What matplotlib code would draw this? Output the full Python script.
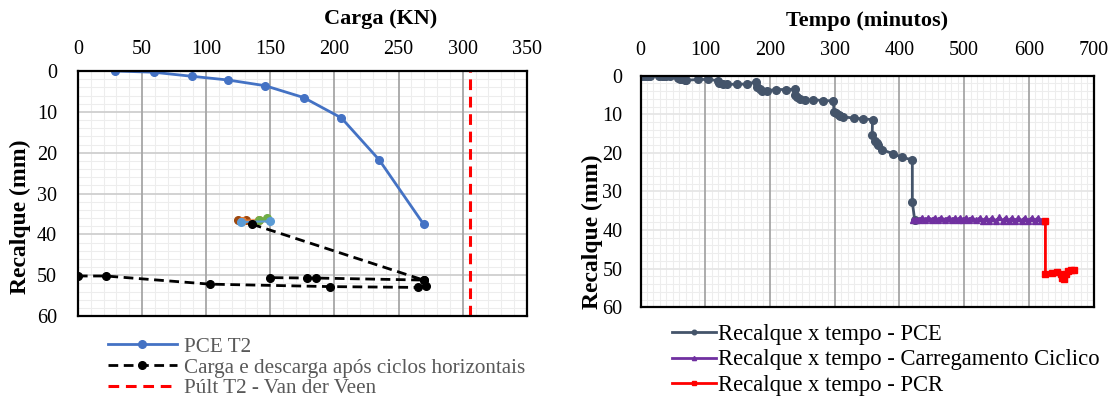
import matplotlib
matplotlib.use('Agg')
import matplotlib.pyplot as plt
from matplotlib.ticker import MultipleLocator
import numpy as np

plt.rcParams['font.family'] = ['Liberation Serif', 'DejaVu Serif']

# ---------------------------------------------------------------------------
# left chart: load x settlement
pce_carga = [29, 59, 89, 117, 146, 176, 205.5, 235, 269.5]
pce_recalque = [0, 0.3, 1.3, 2.2, 3.6, 6.5, 11.5, 21.8, 37.5]

# load / unload after horizontal cycles (nan = gap in the line)
cd_carga = [135.6, 269.5, 185.5, 179, 150, np.nan,
            0, 21.7, 103, 196.6, 265, 271.4, 269.5]
cd_recalque = [37.5, 51.2, 50.7, 50.7, 50.6, np.nan,
               50.2, 50.2, 52.2, 52.8, 53.0, 52.6, 51.2]

p_ult = 306

# small series left over from the cyclic stage
ciclo_series = [
    ([124.5, 131], [36.6, 36.6], '#9E480E'),
    ([128, 141], [36.7, 36.5], '#ED7D31'),
    ([141, 147.5], [36.6, 36.1], '#70AD47'),
    ([127, 149.5], [37.0, 36.8], '#5B9BD5'),
]

# ---------------------------------------------------------------------------
# right chart: settlement x time
pce_t = [0, 3, 6, 9, 12, 15, 29, 33, 37, 40, 45, 58, 61, 64, 68, 71, 89, 105,
         120, 122, 128, 133, 149, 164, 178.5, 179.6, 184, 187, 195, 209.5, 225,
         238, 239, 242, 246.6, 254, 267, 282, 298, 299, 302, 306, 309, 313.6,
         330, 343.6, 358.5, 358, 363, 365, 367, 373, 390, 404.5, 420, 420,
         423.6]
pce_r = [0, 0, 0, 0, 0, 0, 0, 0, 0, 0, 0, 0.6, 0.8, 1.0, 1.1, 1.2, 1.0, 1.0,
         1.3, 1.8, 2.2, 2.3, 2.2, 2.2, 1.6, 3.0, 3.5, 3.9, 3.9, 3.6, 3.6,
         3.5, 5.0, 5.6, 6.0, 6.4, 6.2, 6.5, 6.5, 9.3, 9.8, 10.1, 10.4, 10.7,
         11.0, 11.2, 11.4, 15.3, 17.0, 17.4, 17.9, 19.2, 20.2, 21.2, 21.8, 32.8,
         37.3]

cic_t = [421, 426, 430, 435, 440, 445, 450, 454.5, 459, 464, 470, 476, 481,
         486.5, 490, 494, 498, 503, 507, 512, 518, 525, 530, 534, 538, 543,
         549, 554.5, 560, 564, 569, 574, 579, 584, 589, 593.7, 599, 605, 610,
         614, 619, 623]
cic_r = [37.5, 37.3, 37.3, 36.8, 37.3, 36.8, 37.3, 36.8, 37.3, 36.8, 37.3,
         36.8, 37.3, 36.8, 37.3, 36.8, 37.3, 36.8, 37.3, 36.8, 37.5, 36.8,
         37.6, 36.8, 37.6, 36.8, 37.6, 36.7, 37.6, 36.8, 37.6, 36.8, 37.6,
         36.8, 37.6, 36.8, 37.6, 36.8, 37.6, 36.8, 37.6, 37.6]

pcr_t = [625.7, 625.7, 636, 644, 650, 652, 655, 657, 660, 665, 670]
pcr_r = [37.6, 51.4, 51.2, 50.9, 51.3, 52.5, 52.8, 51.5, 50.6, 50.3, 50.3]


def grade(ax, major_x, minor_x, major_y, minor_y):
    ax.xaxis.set_major_locator(MultipleLocator(major_x))
    ax.xaxis.set_minor_locator(MultipleLocator(minor_x))
    ax.yaxis.set_major_locator(MultipleLocator(major_y))
    ax.yaxis.set_minor_locator(MultipleLocator(minor_y))
    ax.grid(which='minor', color='#EDEDED', linewidth=0.8, zorder=0.2)
    ax.set_axisbelow(True)
    ax.xaxis.tick_top()
    ax.tick_params(which='both', length=0)
    ax.tick_params(axis='both', labelsize=14.5)
    for s in ax.spines.values():
        s.set_color('black')
        s.set_linewidth(1.6)


def linhas_principais(ax, cor_hy):
    # major grid drawn above the minor one so crossings stay solid
    for v in ax.get_xticks()[1:-1]:
        ax.axvline(v, color='#A6A6A6', linewidth=1.3, zorder=0.8)
    for v in ax.get_yticks()[1:-1]:
        ax.axhline(v, color=cor_hy, linewidth=1.3, zorder=0.7)


fig = plt.figure(figsize=(11.14, 3.98), dpi=100)

# ---------------------------------------------------------------------------
ax1 = fig.add_axes([0.0699, 0.206, 0.403, 0.6156])
grade(ax1, 50, 10, 10, 2)
ax1.tick_params(axis='x', pad=9)
ax1.tick_params(axis='y', pad=15)
ax1.set_xlim(0, 350)
ax1.set_ylim(60, 0)
linhas_principais(ax1, '#CFCFCF')

for xs, ys, c in ciclo_series:
    ax1.plot(xs, ys, '-o', color=c, linewidth=1.5, markersize=5.5)

ax1.plot(pce_carga, pce_recalque, '-o', color='#4472C4', linewidth=2,
         markersize=5.5, label='PCE T2')
ax1.plot(cd_carga, cd_recalque, '--o', color='black', linewidth=2,
         markersize=5.5, dashes=(3.5, 2),
         label='Carga e descarga após ciclos horizontais')
ax1.axvline(p_ult, color='#FF0000', linewidth=2.2, dashes=(3.5, 2.2),
            label='Púlt T2 - Van der Veen')

fig.text(0.342, 0.952, 'Carga (KN)', fontsize=16, fontweight='bold',
         ha='center', va='center')
fig.text(0.0185, 0.455, 'Recalque (mm)', fontsize=17, fontweight='bold',
         ha='center', va='center', rotation=90)

h, l = ax1.get_legend_handles_labels()
leg1 = fig.legend(h[-3:], l[-3:], loc='upper left',
                  bbox_to_anchor=(0.097, 0.153), frameon=False,
                  fontsize=15.2, handlelength=3.25, handletextpad=0.35,
                  labelspacing=0.04, borderpad=0, borderaxespad=0)
for t in leg1.get_texts():
    t.set_color('#595959')

# ---------------------------------------------------------------------------
ax2 = fig.add_axes([0.575, 0.228, 0.4066, 0.582])
grade(ax2, 100, 10, 10, 2)
ax2.tick_params(axis='x', pad=11)
ax2.tick_params(axis='y', pad=13)
ax2.set_xlim(0, 700)
ax2.set_ylim(60, 0)
linhas_principais(ax2, '#E6E6E6')

ax2.plot(pce_t, pce_r, '-o', color='#44546A', linewidth=2, markersize=5.5,
         label='Recalque x tempo - PCE')
ax2.plot(cic_t, cic_r, '-^', color='#7030A0', linewidth=2, markersize=5,
         label='Recalque x tempo - Carregamento Ciclico')
ax2.plot(pcr_t, pcr_r, '-s', color='#FF0000', linewidth=2, markersize=5,
         label='Recalque x tempo - PCR')

fig.text(0.778, 0.947, 'Tempo (minutos)', fontsize=16, fontweight='bold',
         ha='center', va='center')
fig.text(0.5314, 0.417, 'Recalque (mm)', fontsize=17, fontweight='bold',
         ha='center', va='center', rotation=90)

leg2 = fig.legend(*ax2.get_legend_handles_labels(), loc='upper left',
                  bbox_to_anchor=(0.603, 0.186), frameon=False,
                  fontsize=16.3, handlelength=1.95, handletextpad=0.1,
                  labelspacing=0.2, borderpad=0, borderaxespad=0,
                  markerscale=0.6)

fig.savefig('out.png', dpi=100)
